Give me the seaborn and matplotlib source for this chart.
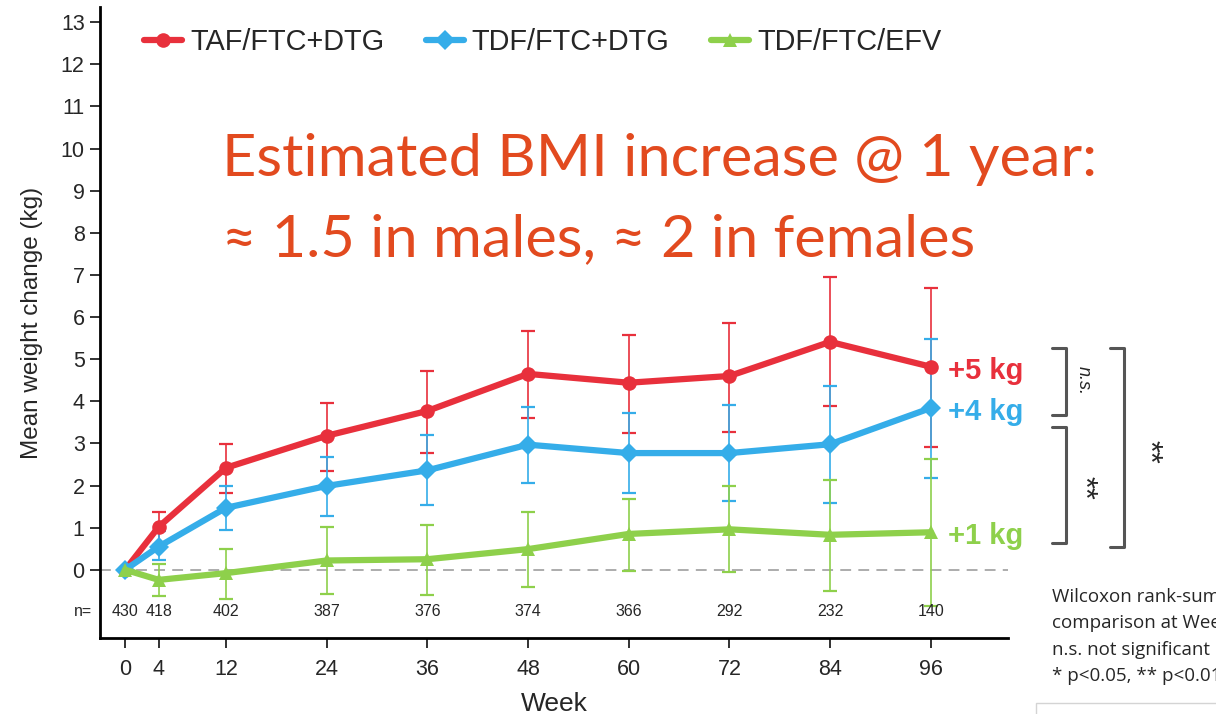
import matplotlib
matplotlib.use("Agg")
import matplotlib.pyplot as plt
import numpy as np
import pandas as pd
import seaborn as sns
from matplotlib.lines import Line2D
from matplotlib.patches import Rectangle

# ---- data -------------------------------------------------------------
weeks = [0, 4, 12, 24, 36, 48, 60, 72, 84, 96]
n_at_risk = [430, 418, 402, 387, 376, 374, 366, 292, 232, 140]

regimens = ["TAF/FTC+DTG", "TDF/FTC+DTG", "TDF/FTC/EFV"]

taf_dtg_mean = [0, 1.02, 2.42, 3.18, 3.77, 4.65, 4.44, 4.60, 5.41, 4.82]
taf_dtg_low = [0, 0.59, 1.83, 2.35, 2.78, 3.61, 3.24, 3.28, 3.89, 2.91]
taf_dtg_high = [0, 1.38, 2.99, 3.96, 4.72, 5.68, 5.58, 5.87, 6.94, 6.70]

tdf_dtg_mean = [0, 0.55, 1.47, 1.99, 2.36, 2.97, 2.77, 2.77, 2.98, 3.84]
tdf_dtg_low = [0, 0.22, 0.94, 1.28, 1.53, 2.07, 1.82, 1.64, 1.58, 2.19]
tdf_dtg_high = [0, 0.91, 1.99, 2.67, 3.19, 3.86, 3.72, 3.90, 4.37, 5.48]

tdf_efv_mean = [0, -0.24, -0.08, 0.22, 0.25, 0.49, 0.85, 0.96, 0.83, 0.89]
tdf_efv_low = [0, -0.63, -0.70, -0.57, -0.59, -0.42, -0.02, -0.06, -0.50, -0.85]
tdf_efv_high = [0, 0.14, 0.50, 1.01, 1.07, 1.37, 1.69, 1.98, 2.14, 2.63]

end_labels = ["+5 kg", "+4 kg", "+1 kg"]

headline = ["Estimated BMI increase @ 1 year:", "\u2248 1.5 in males, \u2248 2 in females"]
stats_note = ["Wilcoxon rank-sum test", "comparison at Week 96",
              "n.s. not significant", "* p<0.05, ** p<0.01"]

# ---- styling ----------------------------------------------------------
colors = {"TAF/FTC+DTG": "#E8303C", "TDF/FTC+DTG": "#35ADE9", "TDF/FTC/EFV": "#8ED04B"}
markers = {"TAF/FTC+DTG": "o", "TDF/FTC+DTG": "D", "TDF/FTC/EFV": "^"}

sns.set_theme(style="ticks")
plt.rcParams["font.family"] = ["Liberation Sans", "DejaVu Sans"]

W, H = 1216, 714


def fx(x):
    return x / W


def fy(y):
    return 1 - y / H


means = [taf_dtg_mean, tdf_dtg_mean, tdf_efv_mean]
lows = [taf_dtg_low, tdf_dtg_low, tdf_efv_low]
highs = [taf_dtg_high, tdf_dtg_high, tdf_efv_high]

df = pd.DataFrame({
    "week": weeks * 3,
    "change": taf_dtg_mean + tdf_dtg_mean + tdf_efv_mean,
    "regimen": [r for r in regimens for _ in weeks],
})

fig = plt.figure(figsize=(W / 100, H / 100), dpi=100)
ax = fig.add_axes([fx(100), fy(638), fx(1008) - fx(100), fy(7) - fy(638)])

# error bars (skip baseline, which has no spread)
for reg, m, lo, hi in zip(regimens, means, lows, highs):
    m_ = np.array(m[1:])
    err = np.vstack([m_ - np.array(lo[1:]), np.array(hi[1:]) - m_])
    ax.errorbar(weeks[1:], m_, yerr=err, fmt="none", ecolor=colors[reg],
                elinewidth=1.2, capsize=4.8, capthick=1.6, zorder=2)

ax.axhline(0, color="#a6a6a6", lw=1.3, ls=(0, (6, 4)), zorder=1)

sns.lineplot(data=df, x="week", y="change", hue="regimen", style="regimen",
             hue_order=regimens, style_order=regimens, palette=colors,
             markers=markers, dashes=False, linewidth=4.5, markersize=10.5,
             markeredgewidth=0, ax=ax, zorder=3)

ax.set_xlim(-3, 105.2)
ax.set_ylim(-1.62, 13.36)
ax.set_xticks(weeks)
ax.set_yticks(range(0, 14))
ax.tick_params(axis="both", length=7, width=1.3, labelsize=15.5, color="#222222")
ax.tick_params(axis="x", pad=8)
ax.tick_params(axis="y", pad=4)
for s in ["top", "right"]:
    ax.spines[s].set_visible(False)
for s in ["left", "bottom"]:
    ax.spines[s].set_linewidth(2)
    ax.spines[s].set_color("black")
ax.set_xlabel("Week", fontsize=19, labelpad=9)
ax.set_ylabel("Mean weight change (kg)", fontsize=17.5, labelpad=13)

# numbers at risk
for w, n in zip(weeks, n_at_risk):
    ax.text(w, -1.0, str(n), ha="center", va="center", fontsize=11.5)
fig.text(fx(83), fy(612), "n=", ha="center", va="center", fontsize=11.5)

# end-of-line value labels
for reg, m, lab in zip(regimens, means, end_labels):
    ax.text(98, m[-1] - 0.1, lab, color=colors[reg], fontsize=21, fontweight="bold",
            ha="left", va="center", clip_on=False)

# legend
handles, labels = ax.get_legend_handles_labels()
ax.legend(handles, labels, loc="center left", bbox_to_anchor=(fx(130), fy(42)),
          bbox_transform=fig.transFigure, ncol=3, frameon=False, fontsize=20.8,
          handlelength=1.3, handletextpad=0.28, columnspacing=1.45, borderpad=0,
          markerscale=1.0)

# headline
fig.text(fx(222), fy(160), headline[0], color="#E24A1F", fontsize=42.8,
         family=["Lato", "DejaVu Sans"], ha="left", va="center")
fig.text(fx(222), fy(240), headline[1], color="#E24A1F", fontsize=42.8,
         family=["Lato", "DejaVu Sans"], ha="left", va="center")

# significance brackets
bc = "#555555"


def bracket(x0, x1, y0, y1):
    fig.add_artist(Line2D([fx(x0), fx(x1), fx(x1), fx(x0)], [fy(y0), fy(y0), fy(y1), fy(y1)],
                          color=bc, lw=2.2, transform=fig.transFigure))


bracket(1052, 1066, 348, 415)
bracket(1052, 1066, 427, 543)
bracket(1110, 1124, 348, 547)
fig.text(fx(1083), fy(381), "n.s.", rotation=-90, style="italic", fontsize=13,
         ha="center", va="center")
fig.text(fx(1083), fy(488), "**", rotation=-90, fontsize=22, ha="center", va="center")
fig.text(fx(1148), fy(452), "**", rotation=-90, fontsize=22, ha="center", va="center")

# test note (runs off the right edge of the canvas)
for i, line in enumerate(stats_note):
    fig.text(fx(1052), fy(597 + 26.3 * i), line, fontsize=13.5,
             family=["Open Sans", "DejaVu Sans"], ha="left", va="center")

fig.add_artist(Rectangle((fx(1036), fy(740)), fx(300), fy(703) - fy(740),
                         fill=False, edgecolor="#d4d4d4", lw=1, transform=fig.transFigure))

fig.savefig("out.png", dpi=100)
